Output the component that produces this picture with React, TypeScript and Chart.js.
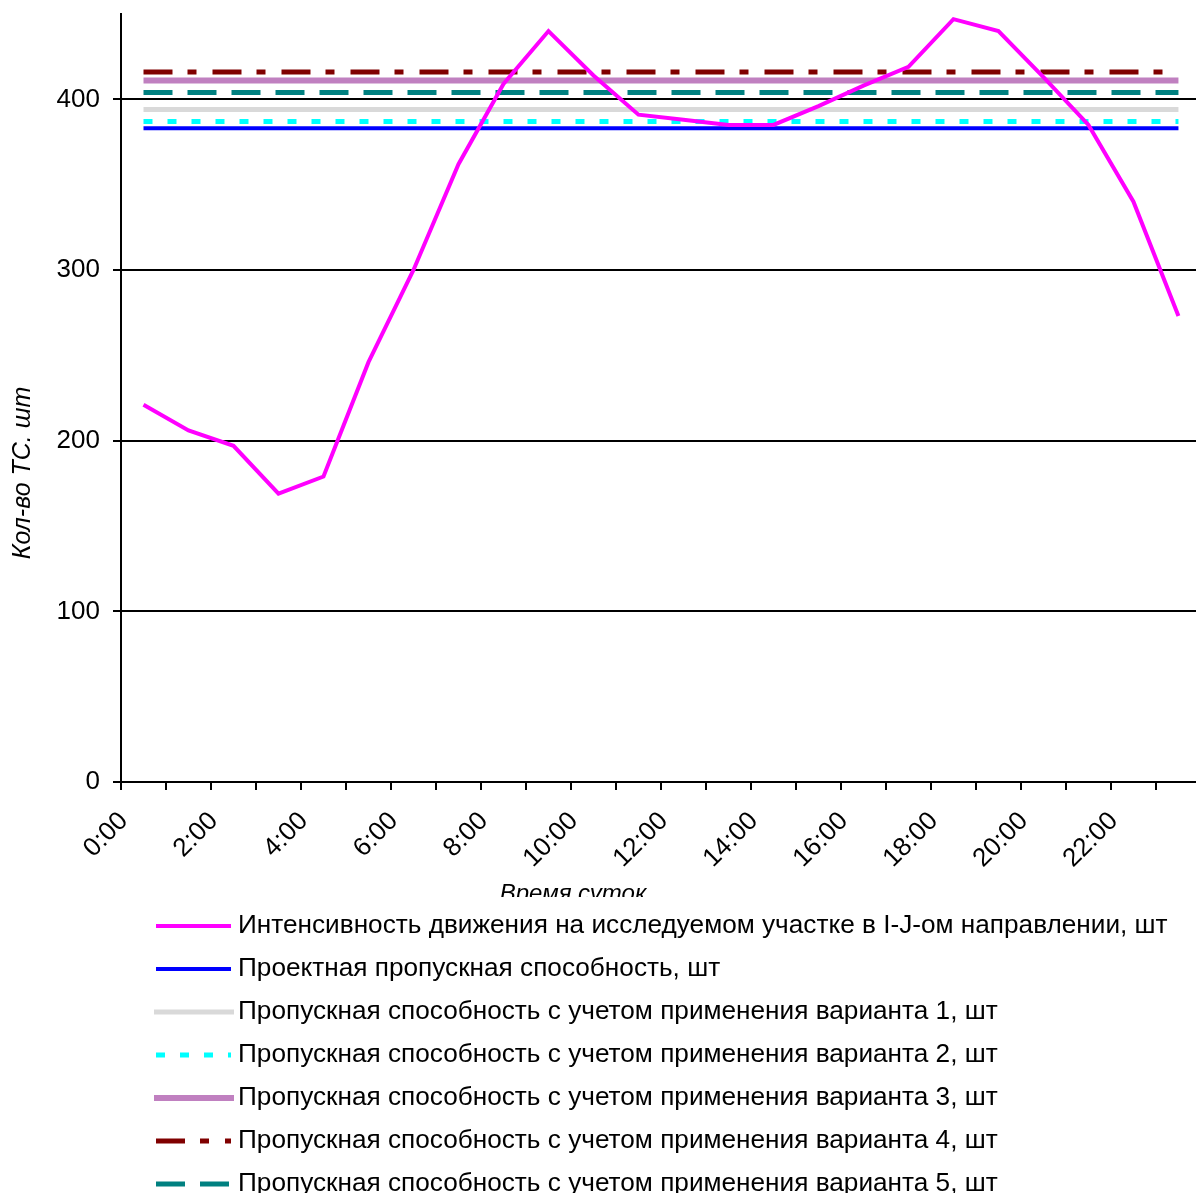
import React, { useEffect, useRef } from 'react';
import { Chart, registerables } from 'chart.js';

Chart.register(...registerables);

// ---- data ----
const hourPositions = [0.5, 1.5, 2.5, 3.5, 4.5, 5.5, 6.5, 7.5, 8.5, 9.5, 10.5, 11.5, 12.5, 13.5, 14.5, 15.5, 16.5, 17.5, 18.5, 19.5, 20.5, 21.5, 22.5, 23.5];
const intensity = [221, 206, 197, 169, 179, 246, 300, 362, 409, 440, 414, 391, 388, 385, 385, 396, 408, 419, 447, 440, 413, 385, 340, 273];
const projectCapacity = 383;
const variant1 = 394;
const variant2 = 387;
const variant3 = 411;
const variant4 = 416;
const variant5 = 404;
const tickHours = [0, 1, 2, 3, 4, 5, 6, 7, 8, 9, 10, 11, 12, 13, 14, 15, 16, 17, 18, 19, 20, 21, 22, 23];
const tickLabels = ['0:00', '', '2:00', '', '4:00', '', '6:00', '', '8:00', '', '10:00', '', '12:00', '', '14:00', '', '16:00', '', '18:00', '', '20:00', '', '22:00', ''];
const yTicks = [0, 100, 200, 300, 400];
const seriesNames = [
  'Интенсивность движения на исследуемом участке в I-J-ом направлении, шт',
  'Проектная пропускная способность, шт',
  'Пропускная способность с учетом применения варианта 1, шт',
  'Пропускная способность с учетом применения варианта 2, шт',
  'Пропускная способность с учетом применения варианта 3, шт',
  'Пропускная способность с учетом применения варианта 4, шт',
  'Пропускная способность с учетом применения варианта 5, шт',
];
const yTitle = 'Кол-во ТС. шт';
const xTitle = 'Время суток';

const FONT = '"Liberation Sans", Arial, sans-serif';

const styles = [
  { color: '#FF00FF', width: 4, dash: [] as number[] },
  { color: '#0000FF', width: 4, dash: [] as number[] },
  { color: '#D9D9D9', width: 5, dash: [] as number[] },
  { color: '#00FFFF', width: 5, dash: [9, 15] },
  { color: '#C080C0', width: 6, dash: [] as number[] },
  { color: '#800000', width: 5, dash: [29, 15, 9, 16] },
  { color: '#008080', width: 5, dash: [29, 15] },
];

const flat = (v: number) => [
  { x: hourPositions[0], y: v },
  { x: hourPositions[hourPositions.length - 1], y: v },
];

const customPlugin = {
  id: 'custom',
  beforeDraw(chart: any) {
    const ctx = chart.ctx;
    ctx.save();
    ctx.fillStyle = '#fff';
    ctx.fillRect(0, 0, chart.width, chart.height);
    ctx.restore();
  },
  afterDraw(chart: any) {
    const ctx = chart.ctx;
    ctx.save();
    // y title
    ctx.fillStyle = '#000';
    ctx.font = `italic 25px ${FONT}`;
    ctx.translate(23, 473);
    ctx.rotate(-Math.PI / 2);
    ctx.textAlign = 'center';
    ctx.textBaseline = 'middle';
    ctx.fillText(yTitle, 0, 0);
    ctx.restore();

    // x title (clipped by legend box)
    ctx.save();
    ctx.beginPath();
    ctx.rect(0, 0, chart.width, 897);
    ctx.clip();
    ctx.fillStyle = '#000';
    ctx.font = `italic 24px ${FONT}`;
    ctx.textAlign = 'center';
    ctx.textBaseline = 'alphabetic';
    ctx.fillText(xTitle, 573, 901);
    ctx.restore();

    // legend
    ctx.save();
    for (let i = 0; i < seriesNames.length; i++) {
      const y = 926 + 43 * i;
      const s = styles[i];
      ctx.beginPath();
      ctx.strokeStyle = s.color;
      ctx.lineWidth = s.width;
      ctx.setLineDash(s.dash);
      ctx.lineCap = 'butt';
      const x0 = i === 2 || i === 4 ? 154 : 156;
      const x1 = i === 2 || i === 4 ? 234 : 231;
      ctx.moveTo(x0, y);
      ctx.lineTo(x1, y);
      ctx.stroke();
      ctx.setLineDash([]);
      ctx.fillStyle = '#000';
      ctx.font = `26.2px ${FONT}`;
      ctx.textAlign = 'left';
      ctx.textBaseline = 'middle';
      ctx.fillText(seriesNames[i], 238, y);
    }
    ctx.restore();
  },
};

export default function App() {
  const ref = useRef<HTMLCanvasElement | null>(null);
  useEffect(() => {
    if (!ref.current) return;
    const values = [
      intensity.map((v, i) => ({ x: hourPositions[i], y: v })),
      flat(projectCapacity),
      flat(variant1),
      flat(variant2),
      flat(variant3),
      flat(variant4),
      flat(variant5),
    ];
    const chart = new Chart(ref.current, {
      type: 'line',
      data: {
        datasets: values.map((d, i) => ({
          label: seriesNames[i],
          data: d,
          borderColor: styles[i].color,
          borderWidth: styles[i].width,
          borderDash: styles[i].dash,
          borderCapStyle: 'butt',
          pointRadius: 0,
          fill: false,
          tension: 0,
        })),
      },
      options: {
        animation: false,
        responsive: false,
        devicePixelRatio: 1,
        layout: { padding: { top: 14, bottom: 296, left: 0, right: 0 } },
        plugins: { legend: { display: false }, tooltip: { enabled: false } },
        scales: {
          x: {
            type: 'linear',
            min: 0,
            max: 23.89,
            afterBuildTicks: (scale: any) => {
              scale.ticks = tickHours.map((v) => ({ value: v }));
            },
            afterFit: (scale: any) => {
              scale.height = 115;
              scale.paddingLeft = 0;
              scale.paddingRight = 0;
            },
            ticks: {
              autoSkip: false,
              minRotation: 45,
              maxRotation: 45,
              padding: 16,
              labelOffset: 3,
              color: '#000',
              font: { family: FONT, size: 26 },
              callback: (_v: any, idx: number) => tickLabels[idx],
            },
            grid: {
              drawOnChartArea: false,
              drawTicks: true,
              tickLength: 8,
              color: '#000',
              lineWidth: 2,
            },
            border: { display: true, color: '#000', width: 2 },
          },
          y: {
            type: 'linear',
            min: 0,
            max: 450,
            afterBuildTicks: (scale: any) => {
              scale.ticks = yTicks.map((v) => ({ value: v }));
            },
            afterFit: (scale: any) => {
              scale.width = 121;
              scale.paddingTop = 0;
              scale.paddingBottom = 0;
            },
            ticks: {
              padding: 13,
              color: '#000',
              font: { family: FONT, size: 26 },
            },
            grid: {
              color: '#000',
              lineWidth: 2,
              drawTicks: true,
              tickLength: 8,
            },
            border: { display: true, color: '#000', width: 2 },
          },
        },
      },
      plugins: [customPlugin],
    } as any);
    return () => chart.destroy();
  }, []);
  return (
    <div style={{ position: 'absolute', left: 0, top: 0, width: 1196, height: 1193, overflow: 'hidden' }}>
      <canvas ref={ref} width={1196} height={1193} style={{ display: 'block', width: 1196, height: 1193 }} />
    </div>
  );
}
